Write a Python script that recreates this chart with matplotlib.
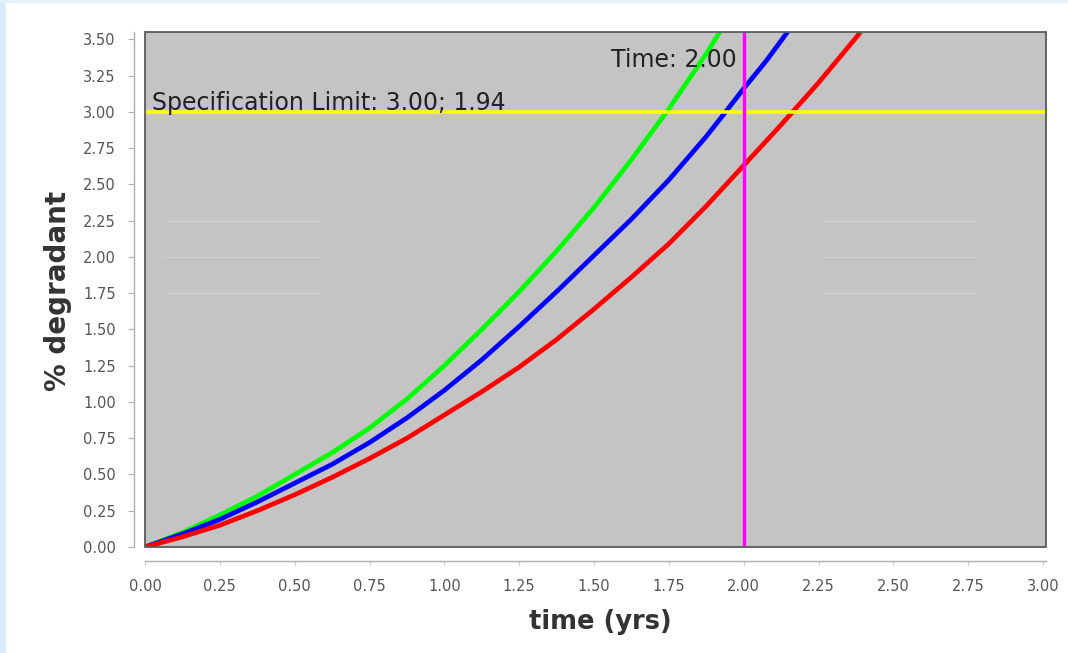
import matplotlib
matplotlib.use("Agg")
from matplotlib import pyplot as plt
from matplotlib.patches import Rectangle

# values (time in yrs, % degradant)
green_t = [0.0, 0.125, 0.25, 0.375, 0.5, 0.625, 0.75, 0.875, 1.0, 1.125, 1.25,
           1.375, 1.5, 1.625, 1.75, 1.875, 1.92]
green_y = [0.0, 0.10, 0.22, 0.35, 0.50, 0.65, 0.82, 1.02, 1.25, 1.50, 1.76,
           2.04, 2.34, 2.67, 3.02, 3.40, 3.55]
blue_t = [0.0, 0.125, 0.25, 0.375, 0.5, 0.625, 0.75, 0.875, 1.0, 1.125, 1.25,
          1.375, 1.5, 1.625, 1.75, 1.875, 1.94, 2.0, 2.075, 2.15]
blue_y = [0.0, 0.09, 0.19, 0.31, 0.44, 0.57, 0.72, 0.89, 1.08, 1.29, 1.52,
          1.76, 2.01, 2.26, 2.53, 2.83, 3.00, 3.16, 3.35, 3.56]
red_t = [0.0, 0.125, 0.25, 0.375, 0.5, 0.625, 0.75, 0.875, 1.0, 1.125, 1.25,
         1.375, 1.5, 1.625, 1.75, 1.875, 2.0, 2.125, 2.25, 2.375, 2.39]
red_y = [0.0, 0.07, 0.15, 0.25, 0.36, 0.48, 0.61, 0.75, 0.91, 1.07, 1.24,
         1.43, 1.64, 1.86, 2.09, 2.35, 2.63, 2.91, 3.20, 3.51, 3.55]

spec_limit = 3.00
spec_time = 1.94
cursor_time = 2.00

x_ticks = [0.0, 0.25, 0.5, 0.75, 1.0, 1.25, 1.5, 1.75, 2.0, 2.25, 2.5, 2.75, 3.0]
y_ticks = [0.0, 0.25, 0.5, 0.75, 1.0, 1.25, 1.5, 1.75, 2.0, 2.25, 2.5, 2.75, 3.0, 3.25, 3.5]

tick_font = ['Liberation Sans Narrow', 'DejaVu Sans']

fig = plt.figure(figsize=(10.68, 6.53), dpi=100)
fig.patch.set_facecolor('white')
# light blue page edge on the left and top
fig.patches.append(Rectangle((0, 0), 6 / 1068, 1, transform=fig.transFigure,
                             facecolor='#dcecfc', edgecolor='none', zorder=0))
fig.patches.append(Rectangle((0, 1 - 3 / 653), 1, 3 / 653, transform=fig.transFigure,
                             facecolor='#e4f0fc', edgecolor='none', zorder=0))

ax = fig.add_axes([145 / 1068, 1 - 547 / 653, 901 / 1068, 515 / 653])
ax.set_facecolor('#c4c4c4')
ax.set_xlim(0, 3.01)
ax.set_ylim(0, 3.55)

# faint light streaks in the plot background
for yy in [1.75, 2.0, 2.25]:
    ax.plot([0.06, 0.58], [yy, yy], color='#d2d2d2', lw=0.8, zorder=1)
    ax.plot([2.26, 2.78], [yy, yy], color='#d2d2d2', lw=0.8, zorder=1)

ax.plot(green_t, green_y, color='#00ff00', lw=3.4, solid_capstyle='butt',
        solid_joinstyle='round', zorder=3)
ax.plot(blue_t, blue_y, color='#0000ff', lw=3.4, solid_capstyle='butt',
        solid_joinstyle='round', zorder=3)
ax.plot(red_t, red_y, color='#ff0000', lw=3.4, solid_capstyle='butt',
        solid_joinstyle='round', zorder=3)

ax.axhline(spec_limit, color='#ffff00', lw=2.6, zorder=4)
ax.axvline(cursor_time, color='#ff00ff', lw=2.4, zorder=4)

ax.text(0.022, spec_limit + 0.01, "Specification Limit: %.2f; %.2f" % (spec_limit, spec_time),
        fontsize=17, color='#222222', ha='left', va='baseline', zorder=5)
ax.text(1.977, 3.31, "Time: %.2f" % cursor_time,
        fontsize=17, color='#222222', ha='right', va='baseline', zorder=5)

# inner plot frame
ax.add_patch(Rectangle((0, 0), 1, 1, transform=ax.transAxes, fill=False,
                       edgecolor='#5a5a5a', lw=1.3, zorder=6, clip_on=False))

# detached axis lines
for side in ['top', 'right']:
    ax.spines[side].set_visible(False)
ax.spines['left'].set_position(('outward', 8))
ax.spines['bottom'].set_position(('outward', 10))
ax.spines['left'].set_color('#b0b0b0')
ax.spines['bottom'].set_color('#b0b0b0')
ax.spines['left'].set_linewidth(1.0)
ax.spines['bottom'].set_linewidth(1.0)

ax.set_xticks(x_ticks)
ax.set_yticks(y_ticks)
ax.set_xticklabels(["%.2f" % v for v in x_ticks])
ax.set_yticklabels(["%.2f" % v for v in y_ticks])
ax.tick_params(axis='y', length=4, width=0.8, color='#b0b0b0', pad=9,
               labelsize=10.5, labelcolor='#555555')
ax.tick_params(axis='x', length=3, width=0.8, color='#c8c8c8', pad=10,
               labelsize=10.5, labelcolor='#555555')
for lab in ax.get_xticklabels() + ax.get_yticklabels():
    lab.set_family(tick_font)

fig.text(58 / 1068, 1 - 291 / 653, "% degradant", rotation=90, ha='center', va='center',
         fontsize=20, fontweight='bold', color='#333333')
fig.text(600 / 1068, 1 - 622 / 653, "time (yrs)", ha='center', va='center',
         fontsize=18.5, fontweight='bold', color='#333333')

plt.savefig("out.png", dpi=100, facecolor=fig.get_facecolor())
